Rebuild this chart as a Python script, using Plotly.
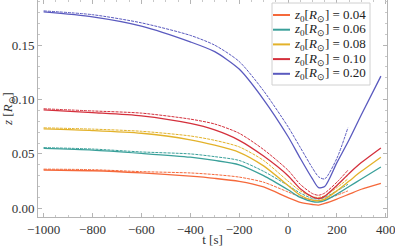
import plotly.graph_objects as go

# ---- data ----
t_solid = [-1000, -800, -600, -400, -300, -200, -100, 0, 50, 100, 125, 150, 200, 250, 300, 380]
t_dash = [-1000, -800, -600, -400, -300, -200, -100, 0, 50, 100, 125, 150, 200, 245]

labels = ["0.04", "0.06", "0.08", "0.10", "0.20"]

z004_solid = [0.0352, 0.0345, 0.0325, 0.0295, 0.0275, 0.0248, 0.0196, 0.0098, 0.0055, 0.0035, 0.0030, 0.0045, 0.0085, 0.0130, 0.0175, 0.0230]
z004_dash = [0.0360, 0.0355, 0.0337, 0.0325, 0.0310, 0.0287, 0.0240, 0.0150, 0.0105, 0.0075, 0.0070, 0.0080, 0.0120, 0.0160]

z006_solid = [0.0550, 0.0535, 0.0505, 0.0470, 0.0440, 0.0400, 0.0300, 0.0170, 0.0100, 0.0062, 0.0058, 0.0070, 0.0130, 0.0200, 0.0270, 0.0380]
z006_dash = [0.0558, 0.0545, 0.0518, 0.0500, 0.0475, 0.0440, 0.0340, 0.0210, 0.0140, 0.0090, 0.0085, 0.0100, 0.0160, 0.0220]

z008_solid = [0.0730, 0.0715, 0.0690, 0.0630, 0.0580, 0.0515, 0.0390, 0.0210, 0.0120, 0.0075, 0.0070, 0.0085, 0.0160, 0.0250, 0.0340, 0.0470]
z008_dash = [0.0740, 0.0728, 0.0708, 0.0665, 0.0625, 0.0565, 0.0440, 0.0250, 0.0160, 0.0105, 0.0100, 0.0115, 0.0190, 0.0270]

z010_solid = [0.0905, 0.0880, 0.0850, 0.0780, 0.0720, 0.0625, 0.0480, 0.0300, 0.0180, 0.0105, 0.0090, 0.0110, 0.0210, 0.0320, 0.0420, 0.0555]
z010_dash = [0.0915, 0.0895, 0.0875, 0.0820, 0.0775, 0.0690, 0.0540, 0.0350, 0.0220, 0.0135, 0.0120, 0.0140, 0.0240, 0.0350]

z020_solid = [0.1805, 0.1760, 0.1675, 0.1530, 0.1440, 0.1280, 0.1000, 0.0660, 0.0460, 0.0270, 0.0190, 0.0200, 0.0420, 0.0630, 0.0860, 0.1215]
z020_dash = [0.1815, 0.1780, 0.1705, 0.1590, 0.1500, 0.1350, 0.1080, 0.0750, 0.0560, 0.0370, 0.0290, 0.0270, 0.0460, 0.0740]

solid_series = [z004_solid, z006_solid, z008_solid, z010_solid, z020_solid]
dash_series = [z004_dash, z006_dash, z008_dash, z010_dash, z020_dash]
colors = ["#F5693B", "#3AA09A", "#E3B22A", "#D4303C", "#5A5ABF"]

x_ticks = [-1000, -800, -600, -400, -200, 0, 200, 400]
y_ticks = [0.00, 0.05, 0.10, 0.15]

serif = "Liberation Serif, Times New Roman, serif"

W, H = 395, 247
ML, MR, MT, MB = 38, 8, 0, 30
PW, PH = W - ML - MR, H - MT - MB


def px_x(p):
    return (p - ML) / PW


def px_y(p):
    return (H - MB - p) / PH


fig = go.Figure()
for lab, ys, yd, c in zip(labels, solid_series, dash_series, colors):
    fig.add_trace(go.Scatter(x=t_dash, y=yd, mode="lines", showlegend=False,
                             line=dict(color=c, width=1, dash="3px,1px", shape="spline", smoothing=0.7),
                             hoverinfo="skip"))
    fig.add_trace(go.Scatter(x=t_solid, y=ys, mode="lines", showlegend=False,
                             name="z0 = " + lab,
                             line=dict(color=c, width=1.3, shape="spline", smoothing=0.7)))

# legend drawn as a framed box
shapes = [dict(type="rect", xref="paper", yref="paper",
               x0=px_x(272), x1=px_x(370), y0=px_y(85), y1=px_y(3),
               fillcolor="white", line=dict(color="#d0d0d0", width=1), layer="above")]
annotations = []
for i, (lab, c) in enumerate(zip(labels, colors)):
    yy = 15 + i * 14.7
    shapes.append(dict(type="line", xref="paper", yref="paper",
                       x0=px_x(273), x1=px_x(290), y0=px_y(yy), y1=px_y(yy),
                       line=dict(color=c, width=2), layer="above"))
    annotations.append(dict(xref="paper", yref="paper", x=px_x(292), y=px_y(yy),
                            xanchor="left", yanchor="middle", showarrow=False,
                            text="<i>z</i><sub>0</sub>[<i>R</i><sub>⊙</sub>] = " + lab,
                            font=dict(family=serif, size=13, color="#222222")))

axis_common = dict(showgrid=False, zeroline=False, showline=True, linecolor="#b5b5b5", linewidth=1,
                   mirror="allticks", ticks="inside", ticklen=4, tickcolor="#b5b5b5",
                   automargin=False, ticklabeloverflow="allow",
                   tickfont=dict(family=serif, size=13, color="#333333"))

fig.update_xaxes(range=[-1023, 405], tickvals=x_ticks,
                 ticktext=["\u2212" + str(-v) if v < 0 else str(v) for v in x_ticks],
                 minor=dict(ticks="inside", ticklen=2, dtick=50, tick0=0, tickcolor="#c8c8c8", showgrid=False),
                 title=dict(text="t [s]", font=dict(family=serif, size=13, color="#333333"), standoff=2),
                 **axis_common)
fig.update_yaxes(range=[-0.008, 0.1915], tickvals=y_ticks, ticktext=["%.2f" % v for v in y_ticks],
                 minor=dict(ticks="inside", ticklen=2, dtick=0.01, tick0=0, tickcolor="#c8c8c8", showgrid=False),
                 title=dict(text="<i>z</i> [<i>R</i><sub>⊙</sub>]", font=dict(family=serif, size=13, color="#333333"), standoff=2),
                 **axis_common)

fig.update_layout(
    width=W, height=H,
    margin=dict(l=ML, r=MR, t=MT, b=MB),
    paper_bgcolor="white", plot_bgcolor="white",
    font=dict(family=serif, size=13, color="#333333"),
    showlegend=False,
    shapes=shapes, annotations=annotations,
)

fig.write_html("out.html", config={"displayModeBar": False},
               post_script="document.body.style.margin='0';")
